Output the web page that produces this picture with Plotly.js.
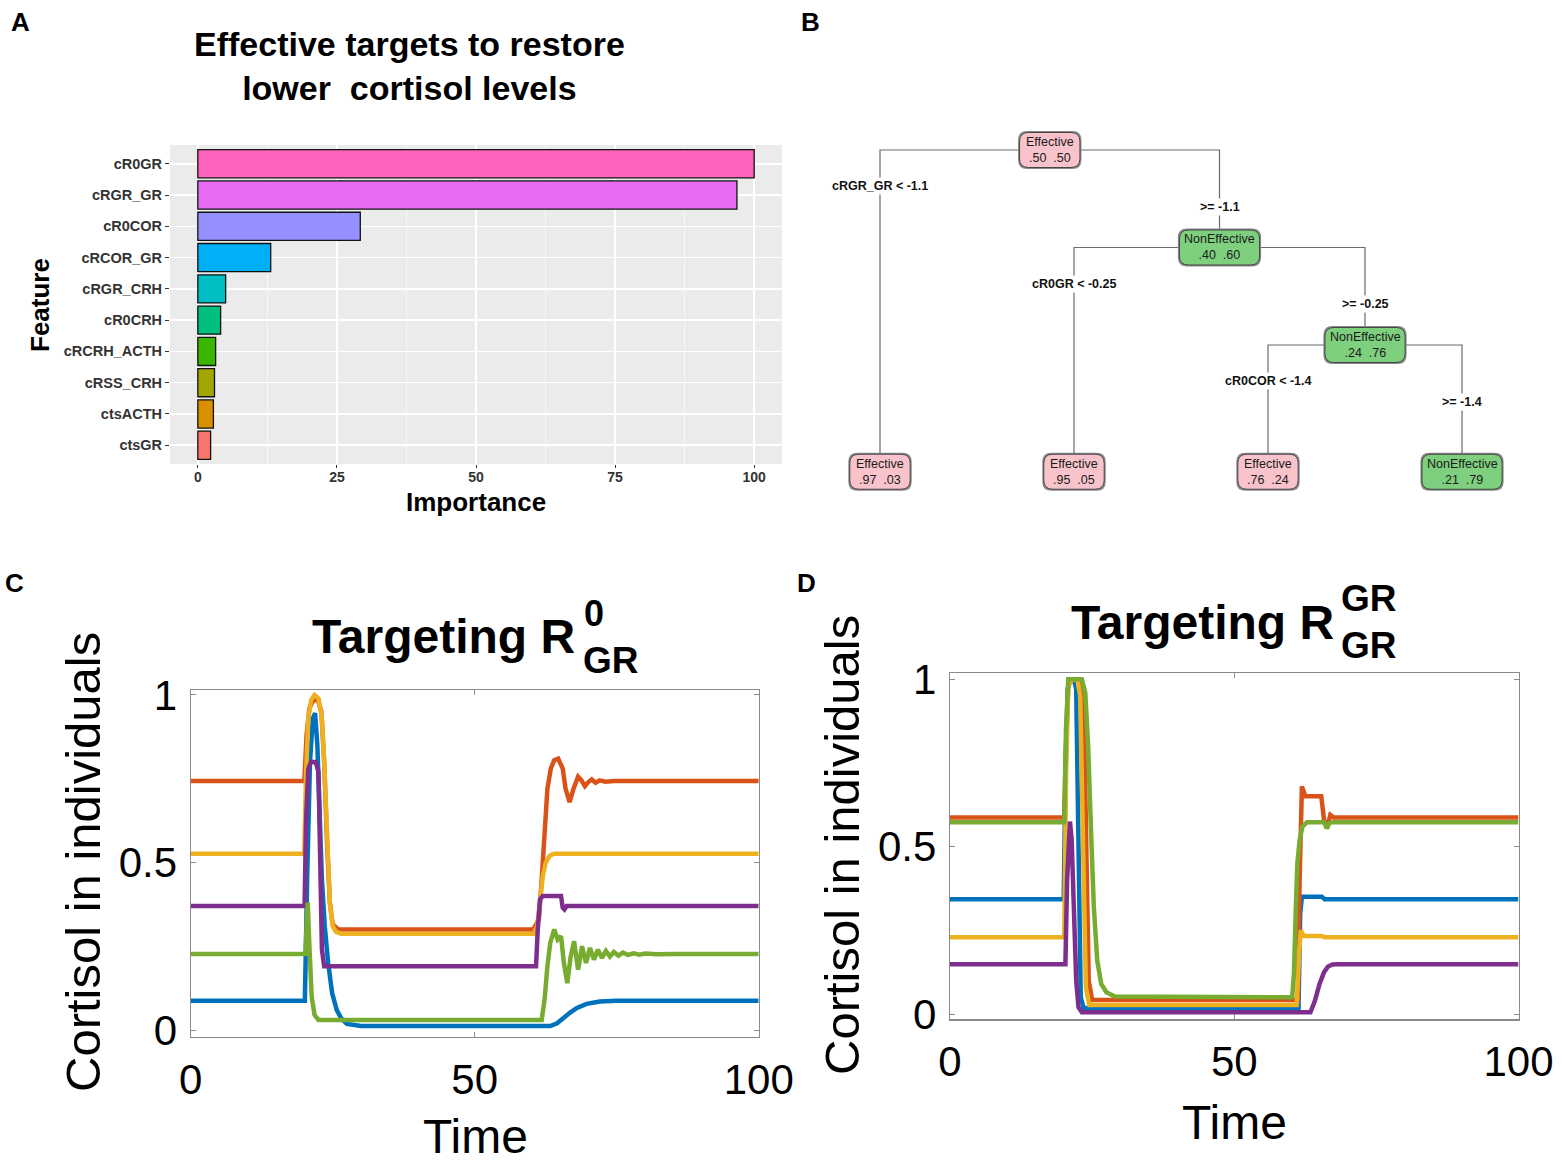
<!DOCTYPE html>
<html><head><meta charset="utf-8">
<script src="https://cdn.plot.ly/plotly-3.0.1.min.js"></script>
<style>html,body{margin:0;padding:0;background:#fff}#chart{width:1562px;height:1162px}</style>
</head><body><div id="chart"></div>
<script>
// ---------- Panel A: variable importance ----------
const features = ['cR0GR','cRGR_GR','cR0COR','cRCOR_GR','cRGR_CRH','cR0CRH','cRCRH_ACTH','cRSS_CRH','ctsACTH','ctsGR'];
const importance = [100, 96.9, 29.2, 13.1, 5.0, 4.1, 3.2, 3.0, 2.8, 2.3];
const importanceTicks = [0, 25, 50, 75, 100];
const barColors = ['#FF62BC','#E76BF3','#9590FF','#00B0F6','#00BFC4','#00BF7D','#39B600','#A3A500','#D89000','#F8766D'];

// ---------- Panel B: decision tree ----------
const nodeClass = ['Effective','Effective','NonEffective','Effective','NonEffective','Effective','NonEffective'];
const nodeProbEffective = [0.50, 0.97, 0.40, 0.95, 0.24, 0.76, 0.21];
const nodeParent = [-1, 0, 0, 2, 2, 4, 4];
const splitVar = ['cRGR_GR', null, 'cR0GR', null, 'cR0COR', null, null];
const splitThreshold = ['-1.1', null, '-0.25', null, '-1.4', null, null];

// ---------- Panel C: Targeting R0_GR ----------
const timeTicks = [0, 50, 100];
const cortTicks = [0, 0.5, 1];
const cBlueT = [0,20.1,20.5,21.0,21.5,21.9,22.3,22.7,23.1,23.6,24.2,24.9,25.7,26.5,27.5,30,63.3,64.5,65.5,66.8,68,69.7,72,75,100];
const cBlueV = [0.087,0.087,0.45,0.80,0.93,0.946,0.85,0.65,0.45,0.31,0.20,0.11,0.06,0.035,0.018,0.012,0.012,0.02,0.035,0.052,0.066,0.078,0.085,0.087,0.087];
const cRedT = [0,20.0,20.4,20.9,21.6,22.4,23.0,23.5,24.0,24.5,25.0,26.0,60.3,61.3,61.8,62.3,62.8,63.4,64.0,64.7,65.5,66.0,66.7,67.4,68.2,68.8,69.4,70.0,70.6,71.3,72.0,73.0,74.5,100];
const cRedV = [0.743,0.743,0.88,0.96,0.985,0.985,0.95,0.80,0.56,0.38,0.315,0.30,0.30,0.33,0.45,0.60,0.72,0.78,0.805,0.81,0.78,0.72,0.68,0.72,0.756,0.745,0.728,0.74,0.748,0.738,0.745,0.741,0.743,0.743];
const cYellowT = [0,20.0,20.3,20.7,21.2,21.8,22.5,23.1,23.5,24.0,24.5,25.0,25.6,26.5,60.4,61.0,61.5,62.0,62.5,63.2,64.0,100];
const cYellowV = [0.526,0.526,0.76,0.93,0.985,1.0,0.99,0.93,0.80,0.56,0.38,0.31,0.293,0.287,0.287,0.31,0.38,0.46,0.50,0.52,0.526,0.526];
const cPurpleT = [0,20.05,20.3,20.7,21.2,22.0,22.5,22.8,23.1,23.5,60.8,61.1,61.5,62.0,65.2,65.5,65.8,66.2,100];
const cPurpleV = [0.37,0.37,0.62,0.78,0.80,0.80,0.77,0.50,0.24,0.19,0.19,0.30,0.39,0.40,0.40,0.365,0.36,0.37,0.37];
const cGreenT = [0,20.2,20.4,20.6,20.9,21.3,21.8,22.5,61.8,62.3,62.8,63.3,64.0,64.6,65.2,65.7,66.3,66.9,67.5,68.2,68.9,69.6,70.3,71.0,71.7,72.4,73.1,73.8,74.5,75.3,76.1,77.0,78.0,79.0,80.0,82.0,85.0,100];
const cGreenV = [0.227,0.227,0.31,0.38,0.25,0.10,0.045,0.03,0.03,0.09,0.19,0.26,0.30,0.27,0.28,0.20,0.14,0.22,0.265,0.18,0.25,0.20,0.245,0.21,0.24,0.215,0.236,0.219,0.233,0.222,0.231,0.224,0.229,0.225,0.228,0.226,0.227,0.227];

// ---------- Panel D: Targeting RGR_GR ----------
const dBlueT = [0,20.0,20.3,20.7,21.2,21.8,22.2,22.6,23.0,23.5,61.3,61.6,61.9,65.4,65.9,100];
const dBlueV = [0.343,0.343,0.70,0.97,1.0,1.0,0.97,0.5,0.05,0.018,0.018,0.30,0.35,0.35,0.343,0.343];
const dRedT = [0,20.1,20.4,20.8,21.5,23.0,23.5,24.0,24.4,25.0,61.2,61.5,61.9,62.5,65.3,65.8,66.3,66.9,67.5,100];
const dRedV = [0.587,0.587,0.8,0.98,1.0,1.0,0.95,0.5,0.1,0.042,0.042,0.4,0.68,0.651,0.651,0.58,0.555,0.595,0.587,0.587];
const dYellowT = [0,20.1,20.4,20.8,21.5,22.4,22.9,23.4,23.9,24.5,61.0,61.4,61.7,62.2,65.4,65.9,100];
const dYellowV = [0.229,0.229,0.7,0.98,1.0,1.0,0.95,0.5,0.08,0.027,0.027,0.18,0.25,0.233,0.233,0.229,0.229];
const dPurpleT = [0,20.3,20.6,20.9,21.1,21.4,21.8,22.2,22.6,23.2,63.4,64.2,65.0,65.8,66.5,67.3,68.2,100];
const dPurpleV = [0.149,0.149,0.40,0.55,0.575,0.52,0.32,0.10,0.02,0.005,0.005,0.04,0.09,0.125,0.142,0.148,0.149,0.149];
const dGreenT = [0,20.1,20.4,20.8,21.5,23.2,23.8,24.3,24.8,25.3,25.9,26.6,27.5,29.0,60.2,60.5,60.8,61.1,61.5,62.0,62.8,65.8,66.3,66.7,67.2,100];
const dGreenV = [0.573,0.573,0.85,1.0,1.0,1.0,0.96,0.80,0.55,0.32,0.16,0.09,0.065,0.052,0.05,0.12,0.30,0.45,0.52,0.56,0.573,0.573,0.555,0.57,0.573,0.573];

// ---------- styling / helpers ----------
const W = 1562, H = 1162;
const px = x => x / W, py = y => 1 - y / H;
const SANS = 'Liberation Sans, Arial, Helvetica, sans-serif';
const M = {blue:'#0072BD', red:'#D95319', yellow:'#EDB120', purple:'#7E2F8E', green:'#77AC30'};
const LW = 4.5;

const traces = [];
const shapes = [];
const annotations = [];

// Panel A bars
traces.push({
  type:'bar', orientation:'h', x: importance, y: features, xaxis:'x', yaxis:'y',
  width: 0.9, marker:{color: barColors, line:{color:'#111', width:1.3}}, hoverinfo:'skip'
});
shapes.push({type:'rect', xref:'x domain', yref:'y domain', x0:0, x1:1, y0:0, y1:1,
  fillcolor:'#EBEBEB', line:{width:0}, layer:'below'});

// Panel B tree layout (rpart-style: leaves evenly spaced, parents centred)
const n = nodeClass.length;
const children = Array.from({length:n}, () => []);
nodeParent.forEach((p, i) => { if (p >= 0) children[p].push(i); });
const nx = new Array(n), ny = new Array(n);
const LEAF_Y = 3.3;
let leafCount = 0;
(function place(i, d) {
  if (children[i].length === 0) { nx[i] = leafCount++; ny[i] = LEAF_Y; return; }
  children[i].forEach(c => place(c, d + 1));
  nx[i] = children[i].reduce((s, c) => s + nx[c], 0) / children[i].length;
  ny[i] = d;
})(0, 0);

const ex = [], ey = [];
for (let i = 0; i < n; i++) {
  const p = nodeParent[i];
  if (p < 0) continue;
  ex.push(nx[p], nx[i], nx[i], null);
  ey.push(ny[p], ny[p], ny[i], null);
  const isLeft = children[p][0] === i;
  const label = isLeft ? `${splitVar[p]} < ${splitThreshold[p]}` : `>= ${splitThreshold[p]}`;
  annotations.push({xref:'x2', yref:'y2', x: nx[i], y: ny[p] + (isLeft ? 0.37 : 0.58),
    text: label, showarrow:false, bgcolor:'#ffffff', borderpad:1,
    font:{family:SANS, size:12.5, color:'#111', weight:'bold'}});
}
traces.push({type:'scatter', mode:'lines', x: ex, y: ey, xaxis:'x2', yaxis:'y2',
  line:{color:'#6b6b6b', width:1.2}, hoverinfo:'skip'});

function rrect(hw, hh, r) {
  return `M ${-hw+r},${-hh} L ${hw-r},${-hh} Q ${hw},${-hh} ${hw},${-hh+r} L ${hw},${hh-r} Q ${hw},${hh} ${hw-r},${hh} ` +
         `L ${-hw+r},${hh} Q ${-hw},${hh} ${-hw},${hh-r} L ${-hw},${-hh+r} Q ${-hw},${-hh} ${-hw+r},${-hh} Z`;
}
const fmt = v => v.toFixed(2).replace(/^0/, '');
for (let i = 0; i < n; i++) {
  const hw = (nodeClass[i].length * 6.6 + 1) / 2, hh = 17.5;
  const fill = nodeClass[i] === 'Effective' ? '#F9C3CC' : '#7ED07E';
  shapes.push({type:'path', xref:'x2', yref:'y2', xsizemode:'pixel', ysizemode:'pixel',
    xanchor: nx[i], yanchor: ny[i], path: rrect(hw + 1.5, hh + 1.5, 9),
    fillcolor:'#8a8a8a', line:{width:0}, layer:'above'});
  shapes.push({type:'path', xref:'x2', yref:'y2', xsizemode:'pixel', ysizemode:'pixel',
    xanchor: nx[i], yanchor: ny[i], path: rrect(hw, hh, 9),
    fillcolor: fill, line:{color:'#444', width:1}, layer:'above'});
  annotations.push({xref:'x2', yref:'y2', x: nx[i], y: ny[i],
    text: `${nodeClass[i]}<br>${fmt(nodeProbEffective[i])}&nbsp;&nbsp;${fmt(1 - nodeProbEffective[i])}`,
    showarrow:false, font:{family:SANS, size:12.5, color:'#1a1a1a'}});
}

// Panel C and D lines
const addLine = (t, v, c, xa, ya) => traces.push({type:'scatter', mode:'lines', x:t, y:v, xaxis:xa, yaxis:ya,
  line:{color:c, width:LW}, hoverinfo:'skip'});
addLine(cBlueT, cBlueV, M.blue, 'x3', 'y3');
addLine(cRedT, cRedV, M.red, 'x3', 'y3');
addLine(cYellowT, cYellowV, M.yellow, 'x3', 'y3');
addLine(cPurpleT, cPurpleV, M.purple, 'x3', 'y3');
addLine(cGreenT, cGreenV, M.green, 'x3', 'y3');
addLine(dBlueT, dBlueV, M.blue, 'x4', 'y4');
addLine(dRedT, dRedV, M.red, 'x4', 'y4');
addLine(dYellowT, dYellowV, M.yellow, 'x4', 'y4');
addLine(dPurpleT, dPurpleV, M.purple, 'x4', 'y4');
addLine(dGreenT, dGreenV, M.green, 'x4', 'y4');

// Text annotations
const ann = (x, y, text, size, opts = {}) => annotations.push(Object.assign({
  xref:'paper', yref:'paper', x: px(x), y: py(y), text, showarrow:false,
  xanchor:'center', yanchor:'middle', font:{family:SANS, size, color:'#000'}}, opts));
const bold = (size) => ({family:SANS, size, color:'#000', weight:'bold'});

ann(20, 22, 'A', 26, {font: bold(26)});
ann(810, 22, 'B', 26, {font: bold(26)});
ann(15, 583, 'C', 26, {font: bold(26)});
ann(806, 583, 'D', 26, {font: bold(26)});
ann(409, 66, 'Effective targets to restore<br>lower  cortisol levels', 34, {font: bold(34)});
ann(476, 502, 'Importance', 26, {font: bold(26)});
ann(40, 305, 'Feature', 26, {font: bold(26), textangle:-90});

ann(577, 636, 'Targeting R', 48, {font: bold(48), xanchor:'right'});
ann(582, 613, '0', 36, {font: bold(36), xanchor:'left'});
ann(581, 660, 'GR', 37, {font: bold(37), xanchor:'left'});
ann(1336, 622, 'Targeting R', 48, {font: bold(48), xanchor:'right'});
ann(1339, 598, 'GR', 37, {font: bold(37), xanchor:'left'});
ann(1339, 645, 'GR', 37, {font: bold(37), xanchor:'left'});

ann(476, 1136, 'Time', 48);
ann(83, 862, 'Cortisol in individuals', 49, {textangle:-90});
ann(1234, 1122, 'Time', 48);
ann(842, 845, 'Cortisol in individuals', 49, {textangle:-90});

const matlabX = (dom, anchor) => ({domain: dom, anchor, range:[0,100], tickvals: timeTicks,
  ticks:'inside', ticklen:5, tickcolor:'#8a8a8a', showline:true, mirror:'ticks', linecolor:'#8a8a8a', linewidth:1.2,
  showgrid:false, zeroline:false, tickfont:{family:SANS, size:42, color:'#000'}, ticklabelstandoff: 5});
const matlabY = (dom, anchor, range) => ({domain: dom, anchor, range, tickvals: cortTicks,
  ticks:'inside', ticklen:5, tickcolor:'#8a8a8a', showline:true, mirror:'ticks', linecolor:'#8a8a8a', linewidth:1.2,
  showgrid:false, zeroline:false, tickfont:{family:SANS, size:42, color:'#000'}, ticklabelstandoff: 4});

const layout = {
  width: W, height: H, margin:{l:0, r:0, t:0, b:0}, paper_bgcolor:'#fff', plot_bgcolor:'rgba(0,0,0,0)',
  showlegend:false, font:{family:SANS},
  xaxis: {domain:[px(170), px(782)], anchor:'y', range:[-5,105], tickvals: importanceTicks,
    showgrid:true, gridcolor:'#fff', gridwidth:1.6, zeroline:false,
    minor:{dtick:12.5, tick0:0, showgrid:true, gridcolor:'#fff', gridwidth:0.6},
    ticks:'outside', ticklen:3, tickcolor:'#333', ticklabelstandoff:-3,
    tickfont:{family:SANS, size:14, color:'#333', weight:'bold'}},
  yaxis: {domain:[py(464), py(145)], anchor:'x', type:'category', categoryorder:'array',
    categoryarray: features.slice().reverse(), range:[-0.6, 9.6],
    showgrid:true, gridcolor:'#fff', gridwidth:1.6, zeroline:false,
    ticks:'outside', ticklen:4, tickcolor:'#333', tickfont:{family:SANS, size:14.5, color:'#333', weight:'bold'}},
  xaxis2: {domain:[px(783), px(1559)], anchor:'y2', range:[-0.5, 3.5], visible:false, fixedrange:true},
  yaxis2: {domain:[py(500), py(130)], anchor:'x2', range:[3.59, -0.205], visible:false, fixedrange:true},
  xaxis3: matlabX([px(190.7), px(758.7)], 'y3'),
  yaxis3: matlabY([py(1037), py(690)], 'x3', [-0.0209, 1.0149]),
  xaxis4: matlabX([px(950), px(1518.5)], 'y4'),
  yaxis4: matlabY([py(1019.3), py(673.3)], 'x4', [-0.0158, 1.018]),
  shapes, annotations
};

Plotly.newPlot('chart', traces, layout, {staticPlot:true, displayModeBar:false});
</script>
</body></html>
